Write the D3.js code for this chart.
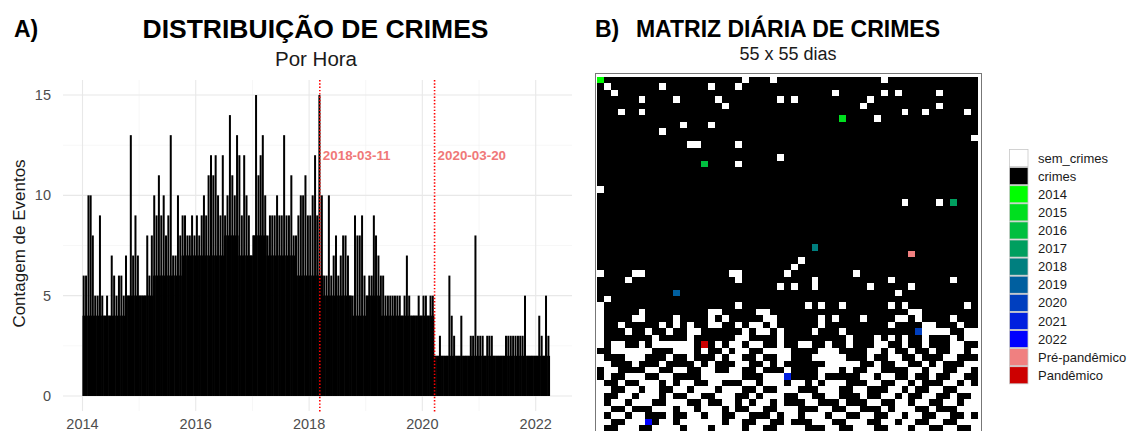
<!DOCTYPE html>
<html><head><meta charset="utf-8">
<script src="https://cdn.jsdelivr.net/npm/d3@7"></script>
<style>body{margin:0;background:#fff;} svg{font-family:"Liberation Sans", Arial, Helvetica, sans-serif;}</style>
</head><body><svg id="c" width="1131" height="431"></svg>
<script>
// ---------------- Panel A data (half-month bins from 2014-01-01) ----------------
const peakCounts = [
 6,6,10,10,8,5,5,9,5,4,5,4,7,6,5,6,6,5,7,5,13,7,9,7,
 5,5,5,8,6,8,10,9,11,9,10,8,9,13,7,7,10,8,9,9,8,8,9,8,
 9,8,9,10,9,11,12,11,12,10,9,12,9,10,14,11,10,13,12,9,12,10,9,7,
 8,15,11,12,13,10,8,9,9,9,10,9,9,13,9,9,11,8,8,9,10,10,11,9,
 9,10,12,9,15,10,6,6,10,6,7,8,6,7,8,8,7,5,5,9,8,8,9,6,
 5,6,6,9,8,7,6,6,5,5,5,5,5,5,5,4,5,7,5,4,4,4,5,4,
 5,5,4,5,5,2,2,3,2,2,2,6,4,3,2,2,4,2,2,2,3,3,8,3,
 3,3,2,3,3,3,2,2,2,2,2,3,3,3,3,3,3,3,3,5,2,2,2,2,
 2,4,3,2,5,3
];
const floorCounts = [ // quarterly solid level
 4,4,4,5, 5,6,6,7, 7,7,8,7, 8,7,7,6, 6,5,5,4, 5,4,4,4, 4,2,2,2, 2,2,2,2, 2,2
];
const eventDates = ["2018-03-11","2020-03-20"];
const yTicks = [0,5,10,15];
const yMinor = [2.5,7.5,12.5];
const xTickYears = [2014,2016,2018,2020,2022];
const xMinorYears = [2015,2017,2019,2021];

// ---------------- Panel B data ----------------
const gridN = 55;
const matrixStart = "2014-01-01";
const noCrimeCols = [
 [21,25,41],
 [1,9,16,20],
 [2,34,41,43,49],
 [6,11,17,26,28,39],
 [18,38,49],
 [3,6,44,47,53],
 [40],
 [12,16],
 [9],
 [54],
 [13,14,20],
 [],
 [26],
 [20],
 [],[],[],
 [0],
 [],
 [44,49],
 [],[],[],[],[],[],[],[],
 [29],
 [28],
 [0,5,6,19,20,27,37],
 [4,20,31,42,51],
 [26,28,31,39,45],
 [43],
 [1],
 [0,20,30,32,35,42,44,53],
 [0,6,16,17,23,24,45,46],
 [0,5,6,11,16,18,24,25,32,34,38,43,44,46,51],
 [0,3,9,11,13,16,17,20,22,23,25,32,42,47,48,52],
 [0,4,7,10,13,14,21,23,24,26,31,35,47,48,49,50,53,54],
 [0,8,13,20,21,26,36,40,42,44,47,51,53,54],
 [0,2,3,6,8,9,10,11,12,13,17,19,20,22,23,26,29,30,33,36,40,41,44,47,51,52],
 [2,3,4,5,6,7,11,12,13,15,18,20,21,24,25,26,27,32,33,34,39,40,42,45,48,51,52,54],
 [0,4,5,6,10,13,17,19,20,23,26,27,31,32,33,34,35,39,42,43,46,50,51],
 [0,1,5,9,14,16,20,21,24,26,33,34,35,36,37,40,43,44,47,49,53,54],
 [1,2,7,8,11,12,15,16,19,20,23,27,32,33,34,36,39,40,45,46,48,49,52,53],
 [1,4,5,6,9,10,15,16,17,18,19,20,24,25,26,32,38,39,41,42,45,48,51,52],
 [0,3,6,7,8,10,12,13,16,17,21,22,24,25,26,28,29,31,33,34,35,39,40,43,44,46,50,51,53],
 [0,1,4,5,7,8,11,12,14,15,16,18,19,20,23,26,27,28,32,33,34,37,38,42,43,45,48,49,52,53,54],
 [0,3,4,6,7,8,10,13,14,17,18,19,22,24,25,26,29,30,33,34,38,41,42,44,47,48,51,54],
 [0,2,3,5,6,7,10,11,12,15,18,19,21,23,24,26,30,31,35,39,40,43,44,46,47,50,51,53,54],
 [0,1,4,8,9,10,12,13,15,16,17,19,22,23,26,27,28,32,33,36,37,41,43,44,45,48,52,53,54],
 [0,2,3,5,6,10,13,14,16,17,20,21,25,27,28,30,31,32,34,35,38,39,42,43,45,46,49,50,53],
 [0,1,4,5,6,9,10,12,13,14,15,16,17,19,20,23,24,27,31,32,33,36,37,38,41,42,44,45,48,49,52,53,54],
 [0,3,4,5,8,9,10,11,13,14,15,17,18,19,20,22,23,26,27,28,29,33,34,37,38,39,42,43,44,46,47,50,51,54]
];
const markerLabels = ["2014","2015","2016","2017","2018","2019","2020","2021","2022","Pré-pandêmico","Pandêmico"];
const markerDates = ["2014-01-01","2015-01-01","2016-01-01","2017-01-01","2018-01-01","2019-01-01","2020-01-01","2021-01-01","2022-01-01","2018-03-11","2020-03-20"];
const markerColors = ["#00FF00","#00DF1F","#00BF3F","#009F5F","#007F7F","#005F9F","#003FBF","#001FDF","#0000FF","#F08080","#CD0000"];
const legendLabels = ["sem_crimes","crimes"].concat(markerLabels);
const legendColors = ["#FFFFFF","#000000"].concat(markerColors);

// ---------------- Drawing ----------------
const svg = d3.select("#c");
const parse = d3.timeParse("%Y-%m-%d");

// Panel A
const pA = {l:63, r:572, t:80, b:411};
const x = d3.scaleTime().domain([new Date(2014,0,1), new Date(2022,0,1)]).range([82.5, 535.7]);
const y = d3.scaleLinear().domain([-0.75, 15.75]).range([pA.b, pA.t]);
const gA = svg.append("g");

// grid
gA.selectAll(".ymin").data(yMinor).join("line")
  .attr("x1",pA.l).attr("x2",pA.r).attr("y1",d=>y(d)).attr("y2",d=>y(d))
  .attr("stroke","#F2F2F2").attr("stroke-width",0.6);
gA.selectAll(".xmin").data(xMinorYears).join("line")
  .attr("x1",d=>x(new Date(d,0,1))).attr("x2",d=>x(new Date(d,0,1))).attr("y1",pA.t).attr("y2",pA.b)
  .attr("stroke","#F2F2F2").attr("stroke-width",0.6);
gA.selectAll(".ymaj").data(yTicks).join("line")
  .attr("x1",pA.l).attr("x2",pA.r).attr("y1",d=>y(d)).attr("y2",d=>y(d))
  .attr("stroke","#E8E8E8").attr("stroke-width",1.1);
gA.selectAll(".xmaj").data(xTickYears).join("line")
  .attr("x1",d=>x(new Date(d,0,1))).attr("x2",d=>x(new Date(d,0,1))).attr("y1",pA.t).attr("y2",pA.b)
  .attr("stroke","#E8E8E8").attr("stroke-width",1.1);

// bins
const binStart = i => new Date(2014 + Math.floor(i/24), Math.floor((i%24)/2), (i%2)?16:1);
const bins = peakCounts.map((v,i)=>({i, peak:v, floor:Math.min(v, floorCounts[Math.floor(i/6)]), x0:x(binStart(i)), x1:x(binStart(i+1))}));
gA.selectAll(".fl").data(bins).join("rect")
  .attr("x",d=>d.x0).attr("width",d=>d.x1-d.x0+0.4)
  .attr("y",d=>y(d.floor)).attr("height",d=>y(0)-y(d.floor)).attr("fill","#000");
gA.selectAll(".pk").data(bins).join("rect")
  .attr("x",d=>(d.x0+d.x1)/2-1).attr("width",2)
  .attr("y",d=>y(d.peak)).attr("height",d=>y(0)-y(d.peak)).attr("fill","#000");

// event lines
eventDates.forEach(ds=>{
  const xv = x(parse(ds));
  gA.append("line").attr("x1",xv).attr("x2",xv).attr("y1",pA.t).attr("y2",pA.b+1)
    .attr("stroke","#FF0000").attr("stroke-width",1.6).attr("stroke-dasharray","1.4,1.9");
  gA.append("text").attr("x",xv+3).attr("y",y(12)).attr("dy","0.35em")
    .attr("fill","#F07878").attr("font-weight","bold").attr("font-size","13.4px").text(ds);
});

// axes labels
gA.selectAll(".yl").data(yTicks).join("text")
  .attr("x",51).attr("y",d=>y(d)).attr("dy","0.35em").attr("text-anchor","end")
  .attr("fill","#4D4D4D").attr("font-size","14.5px").text(d=>d);
gA.selectAll(".xl").data(xTickYears).join("text")
  .attr("x",d=>x(new Date(d,0,1))).attr("y",429).attr("text-anchor","middle")
  .attr("fill","#4D4D4D").attr("font-size","14.5px").text(d=>d);
gA.append("text").attr("transform",`translate(19.5,${(pA.t+pA.b)/2 - 2}) rotate(-90)`)
  .attr("text-anchor","middle").attr("dy","0.35em").attr("fill","#1A1A1A").attr("font-size","17px").text("Contagem de Eventos");
gA.append("text").attr("x",315.5).attr("y",38).attr("text-anchor","middle")
  .attr("font-weight","bold").attr("font-size","26.5px").attr("fill","#000").text("DISTRIBUIÇÃO DE CRIMES");
gA.append("text").attr("x",316).attr("y",66).attr("text-anchor","middle")
  .attr("font-size","20.5px").attr("fill","#1A1A1A").text("Por Hora");
gA.append("text").attr("x",14).attr("y",37)
  .attr("font-weight","bold").attr("font-size","23px").attr("fill","#000").text("A)");

// Panel B
const gB = svg.append("g");
const cx = d3.scaleBand().domain(d3.range(gridN)).range([597, 977.7]);
const cy = d3.scaleBand().domain(d3.range(gridN)).range([76.7, 431.5]);
const start = parse(matrixStart);
const markerByDay = new Map(markerDates.map((ds,k)=>[d3.timeDay.count(start, parse(ds)), markerColors[k]]));
const cells = [];
for (let r=0;r<gridN;r++){
  const whites = new Set(noCrimeCols[r]);
  for (let c=0;c<gridN;c++){
    const day = r*gridN + c;
    let col = whites.has(c) ? "#FFFFFF" : "#000000";
    if (markerByDay.has(day)) col = markerByDay.get(day);
    cells.push({r,c,col});
  }
}
gB.append("rect").attr("x",595.5).attr("y",73.5).attr("width",386).attr("height",362)
  .attr("fill","#fff").attr("stroke","#777").attr("stroke-width",1);
gB.selectAll(".cell").data(cells).join("rect")
  .attr("x",d=>Math.round(cx(d.c))).attr("y",d=>Math.round(cy(d.r)))
  .attr("width",d=>Math.round(cx(d.c)+cx.bandwidth())-Math.round(cx(d.c)))
  .attr("height",d=>Math.round(cy(d.r)+cy.bandwidth())-Math.round(cy(d.r)))
  .attr("shape-rendering","crispEdges")
  .attr("fill",d=>d.col);

gB.append("text").attr("x",595).attr("y",37)
  .attr("font-weight","bold").attr("font-size","23px").attr("fill","#000").text("B)");
gB.append("text").attr("x",788).attr("y",37).attr("text-anchor","middle")
  .attr("font-weight","bold").attr("font-size","23px").attr("fill","#000").text("MATRIZ DIÁRIA DE CRIMES");
gB.append("text").attr("x",788).attr("y",60).attr("text-anchor","middle")
  .attr("font-size","18px").attr("fill","#1A1A1A").text("55 x 55 dias");

// legend
const lg = svg.append("g");
const keyH = 18.1, ly0 = 149;
lg.selectAll(".key").data(legendColors).join("rect")
  .attr("x",1009.5).attr("y",(d,i)=>ly0+i*keyH+0.5).attr("width",18.5).attr("height",keyH-1)
  .attr("fill",d=>d).attr("stroke","#C8C8C8").attr("stroke-width",0.8);
lg.selectAll(".lt").data(legendLabels).join("text")
  .attr("x",1038).attr("y",(d,i)=>ly0+i*keyH+keyH/2).attr("dy","0.35em")
  .attr("font-size","13px").attr("fill","#1A1A1A").text(d=>d);
</script></body></html>
